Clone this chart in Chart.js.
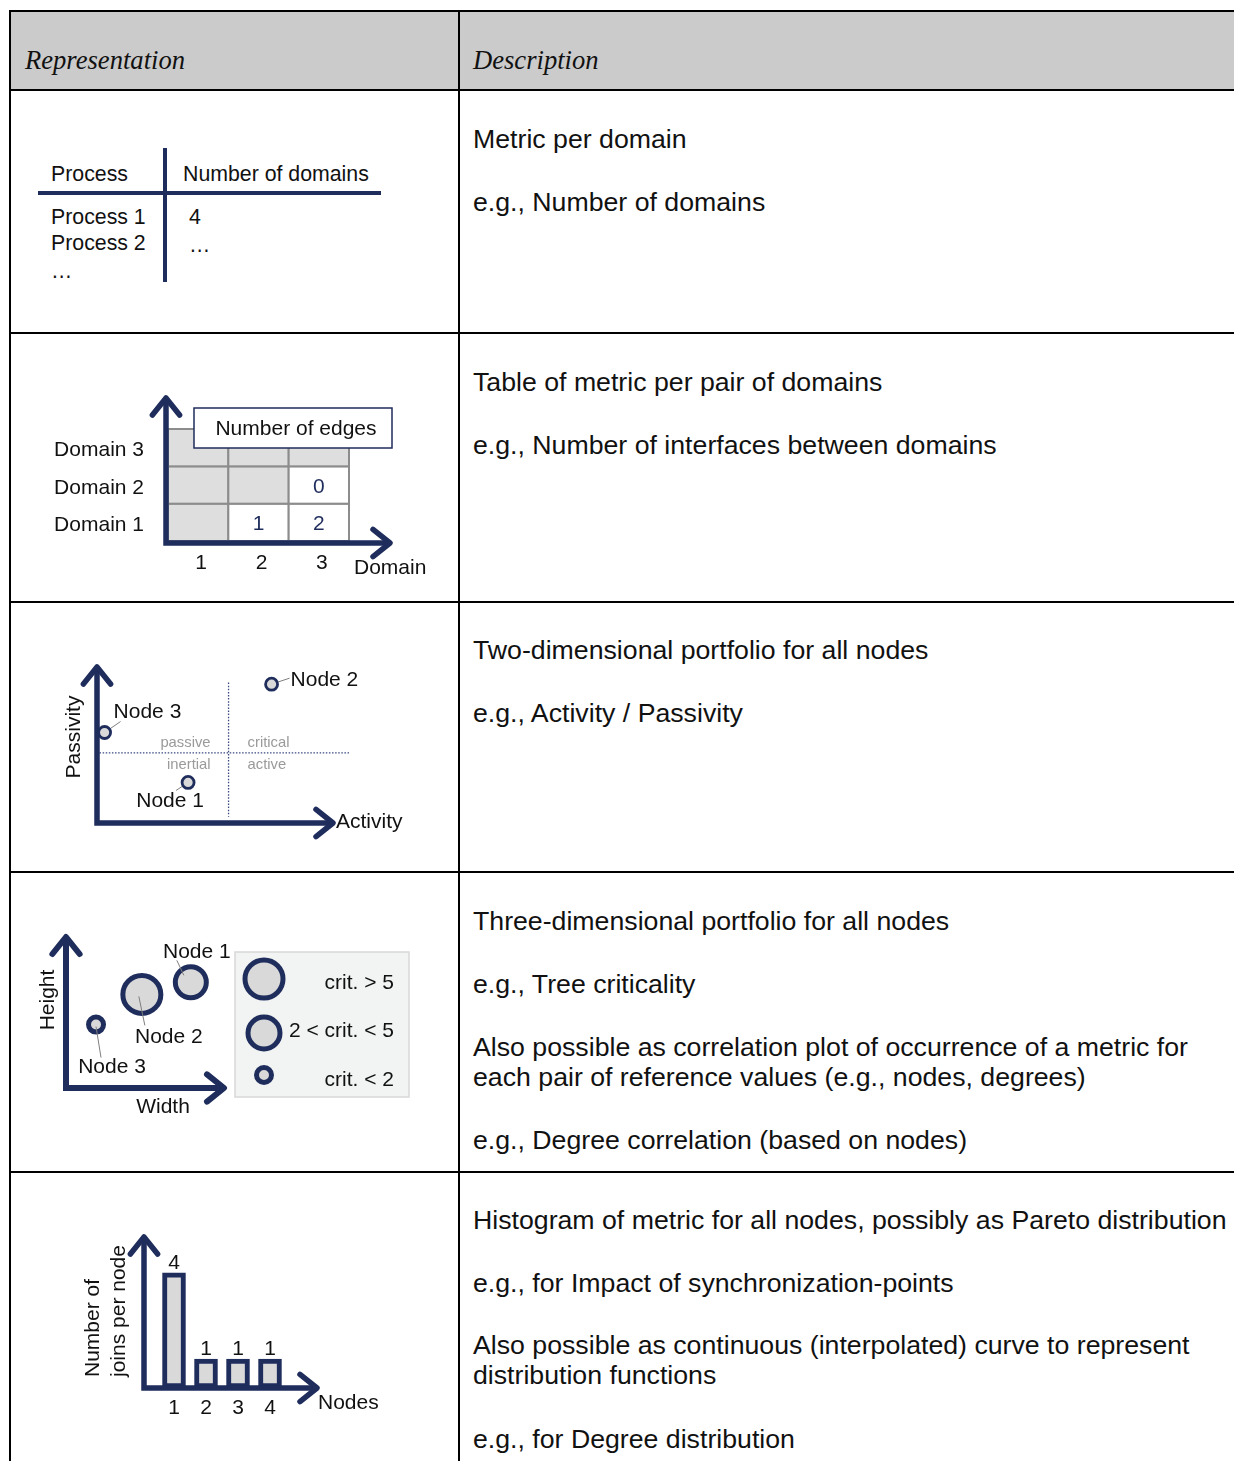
<!DOCTYPE html>
<html>
<head>
<meta charset="utf-8">
<script src="https://cdn.jsdelivr.net/npm/chart.js@4.4.1/dist/chart.umd.min.js"></script>
<style>
  body { margin: 0; background: #fff; }
  #page { position: relative; width: 1234px; height: 1461px; overflow: hidden;
          font-family: "Liberation Sans", Arial, sans-serif; color: #111; }
  .hd { position: absolute; left: 9px; right: 0; top: 10px; height: 80px; background: #cbcbcb; }
  .hl { position: absolute; left: 9px; right: 0; height: 2px; background: #000; }
  .vl { position: absolute; top: 10px; bottom: 0; width: 2px; background: #000; }
  .th { position: absolute; top: 44px; font: italic 26.6px "Liberation Serif", serif; line-height: 32px; }
  .tx { position: absolute; left: 473px; font-size: 26.7px; line-height: 30px; white-space: nowrap; }
  .t1 { position: absolute; font-size: 21.3px; line-height: 24px; white-space: nowrap; }
  .nv { position: absolute; background: #1f2d5c; }
  canvas { position: absolute; left: 11px; }
</style>
</head>
<body>
<div id="page">
  <div class="hd"></div>
  <div class="hl" style="top:10px"></div>
  <div class="hl" style="top:89px"></div>
  <div class="hl" style="top:332px"></div>
  <div class="hl" style="top:601px"></div>
  <div class="hl" style="top:871px"></div>
  <div class="hl" style="top:1171px"></div>
  <div class="vl" style="left:9px"></div>
  <div class="vl" style="left:458px"></div>

  <div class="th" style="left:25px">Representation</div>
  <div class="th" style="left:473px">Description</div>

  <!-- ligne 1 : tableau simple -->
  <div class="t1" style="left:51px;top:162px">Process</div>
  <div class="t1" style="left:183px;top:162px">Number of domains</div>
  <div class="nv" style="left:38px;top:191px;width:343px;height:4px"></div>
  <div class="nv" style="left:163px;top:148px;width:4px;height:134px"></div>
  <div class="t1" style="left:51px;top:205px">Process 1</div>
  <div class="t1" style="left:189px;top:205px">4</div>
  <div class="t1" style="left:51px;top:231px">Process 2</div>
  <div class="t1" style="left:189px;top:233px">…</div>
  <div class="t1" style="left:51px;top:259px">…</div>

  <canvas id="grille" width="447" height="267" style="top:334px"></canvas>
  <canvas id="portfolio" width="447" height="268" style="top:603px"></canvas>
  <canvas id="bulles" width="447" height="298" style="top:873px"></canvas>
  <canvas id="histo" width="447" height="288" style="top:1173px"></canvas>

  <!-- descriptions -->
  <div class="tx" style="top:124px">Metric per domain</div>
  <div class="tx" style="top:187px">e.g., Number of domains</div>

  <div class="tx" style="top:367px">Table of metric per pair of domains</div>
  <div class="tx" style="top:430px">e.g., Number of interfaces between domains</div>

  <div class="tx" style="top:635px">Two-dimensional portfolio for all nodes</div>
  <div class="tx" style="top:698px">e.g., Activity / Passivity</div>

  <div class="tx" style="top:906px">Three-dimensional portfolio for all nodes</div>
  <div class="tx" style="top:969px">e.g., Tree criticality</div>
  <div class="tx" style="top:1032px">Also possible as correlation plot of occurrence of a metric for<br>each pair of reference values (e.g., nodes, degrees)</div>
  <div class="tx" style="top:1125px">e.g., Degree correlation (based on nodes)</div>

  <div class="tx" style="top:1205px">Histogram of metric for all nodes, possibly as Pareto distribution</div>
  <div class="tx" style="top:1268px">e.g., for Impact of synchronization-points</div>
  <div class="tx" style="top:1330px">Also possible as continuous (interpolated) curve to represent<br>distribution functions</div>
  <div class="tx" style="top:1424px">e.g., for Degree distribution</div>
</div>

<script>
const NAVY = "#1f2d5c";
const FILL = "#d9d9d9";
const FONT = '"Liberation Sans", Arial, sans-serif';
const TAILLE = 21;

// tableau par paire de domaines
const DOMAIN_TICKS = ["1", "2", "3"];
const DOMAIN_ROWS = ["Domain 1", "Domain 2", "Domain 3"];
const EDGE_FROM = [2, 3, 3];
const EDGE_TO = [1, 1, 2];
const EDGE_COUNT = [1, 2, 0];

// portfolio activité / passivité
const NODE_NAMES = ["Node 1", "Node 2", "Node 3"];
const ACTIVITY = [3.6, 6.9, 0.3];
const PASSIVITY = [2.6, 8.9, 5.8];
const ACTIVITY_SPLIT = 5.2;
const PASSIVITY_SPLIT = 4.5;
const QUADRANTS = ["passive", "critical", "inertial", "active"];

// portfolio 3D (criticité)
const TREE_WIDTH = [7.9, 4.8, 1.9];
const TREE_HEIGHT = [7.0, 6.2, 4.2];
const TREE_RADIUS = [15.5, 19, 7.5];
const CRIT_CLASSES = ["crit. > 5", "2 < crit. < 5", "crit. < 2"];
const CRIT_RADIUS = [19, 16, 7.5];

// histogramme
const HIST_NODES = ["1", "2", "3", "4"];
const JOINS = [4, 1, 1, 1];

// --- utilitaires ---
function options(box, area, x, y) {
  return {
    responsive: false,
    animation: false,
    events: [],
    layout: {
      padding: {
        left: area[0] - box.x,
        top: area[1] - box.y,
        right: box.x + box.w - area[2],
        bottom: box.y + box.h - area[3],
      },
    },
    plugins: { legend: { display: false }, tooltip: { enabled: false } },
    scales: {
      x: Object.assign({ display: false }, x),
      y: Object.assign({ display: false }, y),
    },
  };
}

function texte(ctx, s, x, y, size, align, color, rot) {
  ctx.save();
  ctx.font = size + "px " + FONT;
  ctx.fillStyle = color || "#111";
  ctx.textAlign = align || "center";
  ctx.textBaseline = "middle";
  ctx.translate(x, y);
  if (rot) ctx.rotate(rot);
  ctx.fillText(s, 0, 0);
  ctx.restore();
}

function fleches(ctx, ox, oy, xTip, yTip, lw, head) {
  ctx.save();
  ctx.strokeStyle = NAVY;
  ctx.lineWidth = lw;
  ctx.lineJoin = "miter";
  ctx.lineCap = "butt";
  ctx.beginPath();
  ctx.moveTo(ox, yTip + 3);
  ctx.lineTo(ox, oy);
  ctx.lineTo(xTip - 3, oy);
  ctx.stroke();
  ctx.lineCap = "round";
  ctx.lineJoin = "round";
  ctx.beginPath();
  ctx.moveTo(xTip - head, oy - head * 0.8);
  ctx.lineTo(xTip, oy);
  ctx.lineTo(xTip - head, oy + head * 0.8);
  ctx.moveTo(ox - head * 0.8, yTip + head);
  ctx.lineTo(ox, yTip);
  ctx.lineTo(ox + head * 0.8, yTip + head);
  ctx.stroke();
  ctx.restore();
}

function trait(ctx, x1, y1, x2, y2, color, lw) {
  ctx.save();
  ctx.strokeStyle = color;
  ctx.lineWidth = lw;
  ctx.beginPath();
  ctx.moveTo(x1, y1);
  ctx.lineTo(x2, y2);
  ctx.stroke();
  ctx.restore();
}

// --- ligne 2 : grille ---
function creerGrille() {
  const box = { x: 11, y: 334, w: 447, h: 267 };
  const opts = options(box, [168, 429, 349, 541], { type: "linear", min: 0.5, max: 3.5 }, { type: "linear", min: 0.5, max: 3.5 });
  const cellules = EDGE_COUNT.map((v, i) => ({ x: EDGE_FROM[i], y: EDGE_TO[i], v: v }));

  new Chart(document.getElementById("grille"), {
    type: "scatter",
    data: { datasets: [{ data: cellules, pointRadius: 0 }] },
    options: opts,
    plugins: [{
      id: "grille",
      beforeDatasetsDraw(chart) {
        const ctx = chart.ctx;
        const xs = chart.scales.x, ys = chart.scales.y;
        ctx.save();
        ctx.translate(-box.x, -box.y);
        const X = v => xs.getPixelForValue(v) + box.x;
        const Y = v => ys.getPixelForValue(v) + box.y;
        for (let c = 1; c <= DOMAIN_TICKS.length; c++) {
          for (let r = 1; r <= DOMAIN_ROWS.length; r++) {
            ctx.fillStyle = c <= r ? "#dedede" : "#fff";
            ctx.fillRect(X(c - 0.5), Y(r + 0.5), X(c + 0.5) - X(c - 0.5), Y(r - 0.5) - Y(r + 0.5));
            ctx.strokeStyle = "#8c8c8c";
            ctx.lineWidth = 2;
            ctx.strokeRect(X(c - 0.5), Y(r + 0.5), X(c + 0.5) - X(c - 0.5), Y(r - 0.5) - Y(r + 0.5));
          }
        }
        ctx.restore();
      },
      afterDatasetsDraw(chart) {
        const ctx = chart.ctx;
        const xs = chart.scales.x, ys = chart.scales.y;
        ctx.save();
        ctx.translate(-box.x, -box.y);
        const X = v => xs.getPixelForValue(v) + box.x;
        const Y = v => ys.getPixelForValue(v) + box.y;
        cellules.forEach(p => texte(ctx, String(p.v), X(p.x), Y(p.y) + 2, TAILLE, "center", NAVY));
        fleches(ctx, 166, 543, 390, 398, 5.5, 17);
        // encadré
        ctx.fillStyle = "#fff";
        ctx.fillRect(194, 408, 198, 40);
        ctx.strokeStyle = NAVY;
        ctx.lineWidth = 1.5;
        ctx.strokeRect(194, 408, 198, 40);
        texte(ctx, "Number of edges", 296, 429, TAILLE, "center");
        DOMAIN_ROWS.forEach((s, i) => texte(ctx, s, 144, Y(i + 1) + 3, TAILLE, "right"));
        DOMAIN_TICKS.forEach((s, i) => texte(ctx, s, X(i + 1) + 3, 563, TAILLE, "center"));
        texte(ctx, "Domain", 354, 568, TAILLE, "left");
        ctx.restore();
      },
    }],
  });
}

// --- ligne 3 : portfolio ---
const ETIQ_PORTFOLIO = [
  { dx: -18, dy: 19, align: "center", lx: -12, ly: 8 },
  { dx: 19, dy: -4, align: "left", lx: 18, ly: -6 },
  { dx: 9, dy: -20, align: "left", lx: 16, ly: -11 },
];

function creerPortfolio() {
  const box = { x: 11, y: 603, w: 447, h: 268 };
  const opts = options(box, [97, 667, 350, 823], { type: "linear", min: 0, max: 10 }, { type: "linear", min: 0, max: 10 });
  const points = ACTIVITY.map((a, i) => ({ x: a, y: PASSIVITY[i] }));

  new Chart(document.getElementById("portfolio"), {
    type: "scatter",
    data: {
      datasets: [{
        data: points,
        pointRadius: 6,
        borderWidth: 2.8,
        borderColor: NAVY,
        backgroundColor: FILL,
        clip: false,
      }],
    },
    options: opts,
    plugins: [{
      id: "portfolio",
      beforeDatasetsDraw(chart) {
        const ctx = chart.ctx;
        const xs = chart.scales.x, ys = chart.scales.y;
        ctx.save();
        ctx.translate(-box.x, -box.y);
        const X = v => xs.getPixelForValue(v) + box.x;
        const Y = v => ys.getPixelForValue(v) + box.y;
        // quadrants
        ctx.save();
        ctx.strokeStyle = "#3a4a80";
        ctx.lineWidth = 1.3;
        ctx.setLineDash([1.5, 1.6]);
        ctx.beginPath();
        ctx.moveTo(X(ACTIVITY_SPLIT), Y(9.0));
        ctx.lineTo(X(ACTIVITY_SPLIT), Y(0.4));
        ctx.moveTo(X(0.1), Y(PASSIVITY_SPLIT));
        ctx.lineTo(X(10), Y(PASSIVITY_SPLIT));
        ctx.stroke();
        ctx.restore();
        const sx = X(ACTIVITY_SPLIT), sy = Y(PASSIVITY_SPLIT);
        texte(ctx, QUADRANTS[0], sx - 18, sy - 10, 14.8, "right", "#9a9a9a");
        texte(ctx, QUADRANTS[1], sx + 19, sy - 10, 14.8, "left", "#9a9a9a");
        texte(ctx, QUADRANTS[2], sx - 18, sy + 12, 14.8, "right", "#9a9a9a");
        texte(ctx, QUADRANTS[3], sx + 19, sy + 12, 14.8, "left", "#9a9a9a");
        fleches(ctx, 97, 823, 333, 667, 5.5, 17);
        // traits de rappel
        points.forEach((p, i) => {
          const e = ETIQ_PORTFOLIO[i];
          trait(ctx, X(p.x), Y(p.y), X(p.x) + e.lx, Y(p.y) + e.ly, "#7f7f7f", 1);
        });
        ctx.restore();
      },
      afterDatasetsDraw(chart) {
        const ctx = chart.ctx;
        const xs = chart.scales.x, ys = chart.scales.y;
        ctx.save();
        ctx.translate(-box.x, -box.y);
        const X = v => xs.getPixelForValue(v) + box.x;
        const Y = v => ys.getPixelForValue(v) + box.y;
        points.forEach((p, i) => {
          const e = ETIQ_PORTFOLIO[i];
          texte(ctx, NODE_NAMES[i], X(p.x) + e.dx, Y(p.y) + e.dy, TAILLE, e.align);
        });
        texte(ctx, "Passivity", 74, 737, TAILLE, "center", "#111", -Math.PI / 2);
        texte(ctx, "Activity", 336, 822, TAILLE, "left");
        ctx.restore();
      },
    }],
  });
}

// --- ligne 4 : bulles ---
const ETIQ_BULLES = [
  { dx: 6, dy: -30, x1: -14, y1: -22, x2: -7, y2: -7 },
  { dx: 27, dy: 43, x1: -3, y1: 2, x2: 3, y2: 31 },
  { dx: 16, dy: 43, x1: 0, y1: 2, x2: 5, y2: 33 },
];

function creerBulles() {
  const box = { x: 11, y: 873, w: 447, h: 298 };
  const opts = options(box, [66, 937, 224, 1088], { type: "linear", min: 0, max: 10 }, { type: "linear", min: 0, max: 10 });
  const points = TREE_WIDTH.map((w, i) => ({ x: w, y: TREE_HEIGHT[i], r: TREE_RADIUS[i] }));

  new Chart(document.getElementById("bulles"), {
    type: "bubble",
    data: {
      datasets: [{
        data: points,
        borderWidth: 5,
        borderColor: NAVY,
        backgroundColor: FILL,
        clip: false,
      }],
    },
    options: opts,
    plugins: [{
      id: "bulles",
      beforeDatasetsDraw(chart) {
        const ctx = chart.ctx;
        ctx.save();
        ctx.translate(-box.x, -box.y);
        fleches(ctx, 66, 1088, 224, 937, 6, 17);
        // légende
        ctx.fillStyle = "#f2f3f3";
        ctx.fillRect(235, 952, 174, 145);
        ctx.strokeStyle = "#d8d8d8";
        ctx.lineWidth = 1.5;
        ctx.strokeRect(235, 952, 174, 145);
        const ly = [979, 1033, 1075];
        const ty = [983, 1031, 1080];
        CRIT_CLASSES.forEach((s, i) => {
          ctx.beginPath();
          ctx.arc(264, ly[i], CRIT_RADIUS[i], 0, Math.PI * 2);
          ctx.fillStyle = FILL;
          ctx.fill();
          ctx.strokeStyle = NAVY;
          ctx.lineWidth = 5;
          ctx.stroke();
          texte(ctx, s, 394, ty[i], TAILLE, "right");
        });
        ctx.restore();
      },
      afterDatasetsDraw(chart) {
        const ctx = chart.ctx;
        const xs = chart.scales.x, ys = chart.scales.y;
        ctx.save();
        ctx.translate(-box.x, -box.y);
        const X = v => xs.getPixelForValue(v) + box.x;
        const Y = v => ys.getPixelForValue(v) + box.y;
        points.forEach((p, i) => {
          const e = ETIQ_BULLES[i];
          const px = X(p.x), py = Y(p.y);
          trait(ctx, px + e.x1, py + e.y1, px + e.x2, py + e.y2, "#7f7f7f", 1);
          texte(ctx, NODE_NAMES[i], px + e.dx, py + e.dy, TAILLE, "center");
        });
        texte(ctx, "Height", 48, 1000, TAILLE, "center", "#111", -Math.PI / 2);
        texte(ctx, "Width", 163, 1107, TAILLE, "center");
        ctx.restore();
      },
    }],
  });
}

// --- ligne 5 : histogramme ---
function creerHisto() {
  const box = { x: 11, y: 1173, w: 447, h: 288 };
  const opts = options(box, [158, 1244, 286, 1388], { type: "category" }, { type: "linear", min: 0, max: 5 });

  new Chart(document.getElementById("histo"), {
    type: "bar",
    data: {
      labels: HIST_NODES,
      datasets: [{
        data: JOINS,
        backgroundColor: FILL,
        borderColor: NAVY,
        borderWidth: 5,
        borderSkipped: false,
        barThickness: 23,
      }],
    },
    options: opts,
    plugins: [{
      id: "histo",
      afterDatasetsDraw(chart) {
        const ctx = chart.ctx;
        const xs = chart.scales.x, ys = chart.scales.y;
        ctx.save();
        ctx.translate(-box.x, -box.y);
        const X = i => xs.getPixelForValue(i) + box.x;
        const Y = v => ys.getPixelForValue(v) + box.y;
        fleches(ctx, 144, 1388, 317, 1237, 5.5, 17);
        JOINS.forEach((v, i) => {
          texte(ctx, String(v), X(i), Y(v) - 10, TAILLE, "center");
          texte(ctx, HIST_NODES[i], X(i), 1408, TAILLE, "center");
        });
        texte(ctx, "Number of", 93, 1377, TAILLE, "left", "#111", -Math.PI / 2);
        texte(ctx, "joins per node", 119, 1377, TAILLE, "left", "#111", -Math.PI / 2);
        texte(ctx, "Nodes", 318, 1403, TAILLE, "left");
        ctx.restore();
      },
    }],
  });
}

creerGrille();
creerPortfolio();
creerBulles();
creerHisto();
</script>
</body>
</html>
